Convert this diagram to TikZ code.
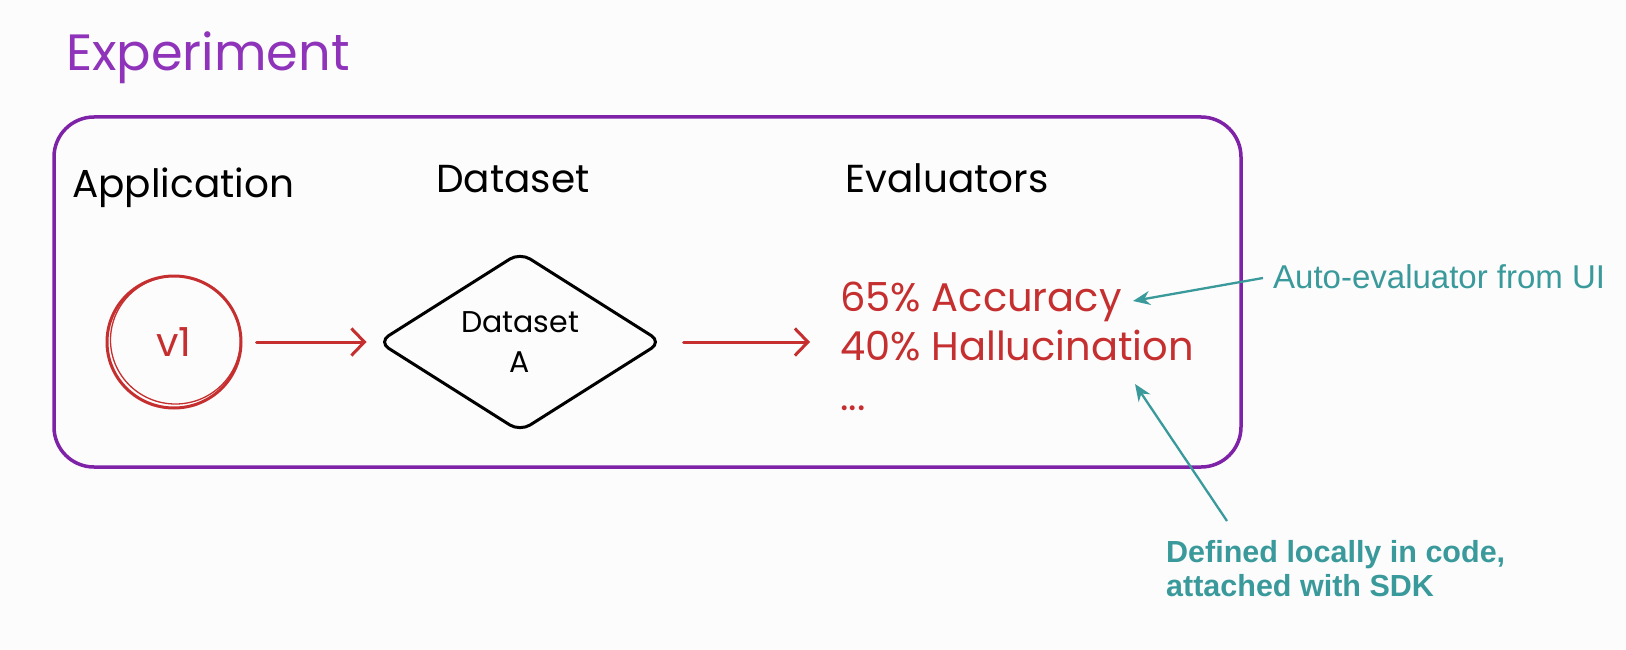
\documentclass[tikz,border=0pt]{standalone}
\usepackage{fontspec}
\setmainfont{Poppins}
\newfontfamily\notefont{Liberation Sans}
\usetikzlibrary{shapes.geometric,arrows.meta,calc}

\definecolor{expurple}{HTML}{8E33BA}
\definecolor{framepurple}{HTML}{7E22A8}
\definecolor{evalred}{HTML}{C62F2F}
\definecolor{noteteal}{HTML}{3A9A9B}
\definecolor{paper}{HTML}{FCFCFC}

\tikzset{
  hand/.style={font=\fontsize{39}{44}\selectfont, inner sep=0pt, anchor=base west},
  heading/.style={hand, text=black},
  evalline/.style={hand, font=\fontsize{40}{44}\selectfont, text=evalred},
  redflow/.style={draw=evalred, line width=3pt, line cap=round,
    -{Straight Barb[length=13pt,width=27pt,line width=3pt]}},
  notearrow/.style={draw=noteteal, line width=2.3pt,
    -{Stealth[length=17pt,width=14pt]}},
  note/.style={text=noteteal, inner sep=0pt, anchor=base west},
}

\begin{document}
\begin{tikzpicture}[x=1pt,y=-1pt]
  \fill[paper] (0,0) rectangle (1626,650);
  \useasboundingbox (0,0) rectangle (1626,650);

  % title above the frame
  \node[hand, text=expurple, font=\fontsize{51}{56}\selectfont] (title) at (66,71) {Experiment};

  % experiment frame
  \draw[framepurple, line width=3.5pt, rounded corners=40pt] (54,117) rectangle (1241,467);

  % column headings
  \node[heading] (happ) at (72,197) {Application};
  \node[heading] (hdata) at (436,193) {Dataset};
  \node[heading] (heval) at (845,193) {Evaluators};

  % application version, with a second pencil stroke
  \node[draw=evalred, line width=3pt, ellipse, minimum width=134pt, minimum height=132pt,
        text=evalred, font=\fontsize{40}{44}\selectfont] (v1) at (174,342) {v1};
  \draw[evalred, line width=1.3pt] ($(v1.center)+(1.5,-2)$) ellipse [x radius=65pt, y radius=64pt];

  % dataset diamond
  \node[draw=black, line width=3pt, diamond, rounded corners=12pt,
        minimum width=284pt, minimum height=180pt, inner sep=0pt, align=center,
        font=\fontsize{30}{40}\selectfont] (dsa) at (520,342) {Dataset\\ A};

  % evaluator results
  \node[evalline] (acc) at (840,311) {65\% Accuracy};
  \node[evalline] (hall) at (840,360) {40\% Hallucination};
  \node[evalline] (more) at (840,410) {...};

  % flow arrows
  \draw[redflow] (v1.east) ++(14pt,0) coordinate (r1) (r1) -- ($(dsa.west)+(-10pt,0)$);
  \draw[redflow] ($(dsa.east)+(20pt,0)$) coordinate (r2) -- ($(acc.west |- dsa.east)+(-30pt,0)$);

  % annotations
  \node[note, font=\notefont\fontsize{33}{38}\selectfont] (auto) at (1273,288) {Auto-evaluator from UI};
  \node[note, font=\notefont\bfseries\fontsize{30.5}{34}\selectfont, align=left, anchor=north west]
       (sdk) at (1166,540) {Defined locally in code,\\attached with SDK};

  \coordinate (autotail) at (1263,278);
  \coordinate (acctip) at (1133,301);
  \coordinate (sdktail) at (1227,521);
  \coordinate (halltip) at (1135,384);
  \draw[notearrow] (autotail) -- (acctip);
  \draw[notearrow] (sdktail) -- (halltip);
\end{tikzpicture}
\end{document}
